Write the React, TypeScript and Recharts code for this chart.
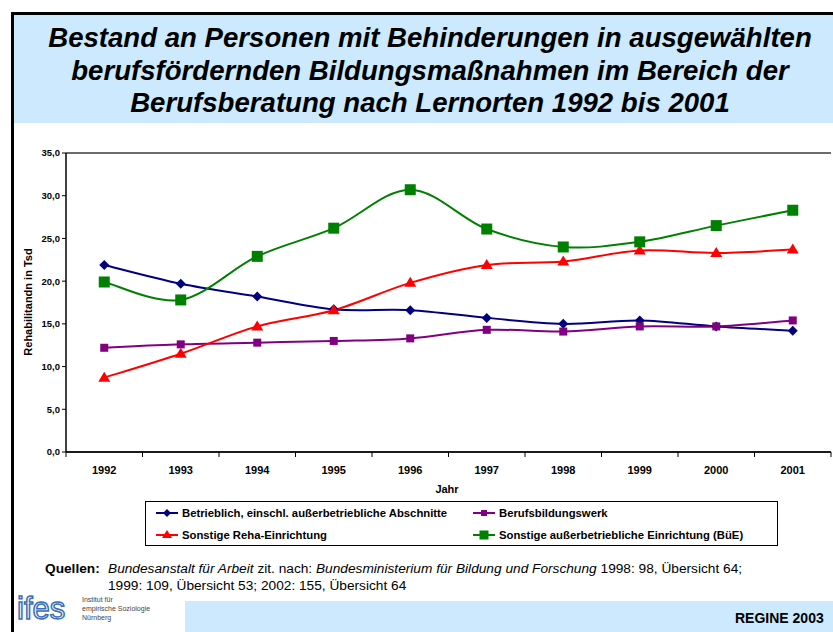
import React from 'react';
import { LineChart, Line, XAxis, YAxis, CartesianGrid, Legend } from 'recharts';

const years = ['1992', '1993', '1994', '1995', '1996', '1997', '1998', '1999', '2000', '2001'];
const betrieblich = [21.9, 19.7, 18.2, 16.7, 16.6, 15.7, 15.0, 15.4, 14.7, 14.2];
const berufsbildungswerk = [12.2, 12.6, 12.8, 13.0, 13.3, 14.3, 14.1, 14.7, 14.7, 15.4];
const sonstigeReha = [8.7, 11.5, 14.7, 16.6, 19.8, 21.9, 22.3, 23.6, 23.3, 23.7];
const sonstigeBue = [19.9, 17.8, 22.9, 26.2, 30.7, 26.1, 24.0, 24.6, 26.5, 28.3];
const yTicks = [0, 5, 10, 15, 20, 25, 30, 35];

const data = years.map((year, i) => ({
    year,
    betrieblich: betrieblich[i],
    bbw: berufsbildungswerk[i],
    reha: sonstigeReha[i],
    bue: sonstigeBue[i],
}));

const series = [
    { key: 'betrieblich', name: 'Betrieblich, einschl. außerbetriebliche Abschnitte', color: '#000080', shape: 'diamond', size: 5 },
    { key: 'bbw', name: 'Berufsbildungswerk', color: '#800080', shape: 'square', size: 4 },
    { key: 'reha', name: 'Sonstige Reha-Einrichtung', color: '#ff0000', shape: 'triangle', size: 5 },
    { key: 'bue', name: 'Sonstige außerbetriebliche Einrichtung (BüE)', color: '#008000', shape: 'square', size: 5.5 },
];

// smoothing close to what Excel does (catmull-rom through the points)
const smoothCurve = (context: any) => {
    let pts: number[][] = [];
    return {
        areaStart() {},
        areaEnd() {},
        lineStart() { pts = []; },
        point(x: number, y: number) { pts.push([+x, +y]); },
        lineEnd() {
            const n = pts.length;
            if (!n) return;
            context.moveTo(pts[0][0], pts[0][1]);
            for (let i = 0; i < n - 1; i++) {
                const p0 = pts[i - 1] || pts[i];
                const p1 = pts[i];
                const p2 = pts[i + 1];
                const p3 = pts[i + 2] || pts[i + 1];
                context.bezierCurveTo(
                    p1[0] + (p2[0] - p0[0]) / 6, p1[1] + (p2[1] - p0[1]) / 6,
                    p2[0] - (p3[0] - p1[0]) / 6, p2[1] - (p3[1] - p1[1]) / 6,
                    p2[0], p2[1]
                );
            }
        },
    };
};

const Marker = ({ cx, cy, shape, size, color }: any) => {
    if (shape === 'diamond') {
        return <polygon points={`${cx},${cy - size} ${cx + size},${cy} ${cx},${cy + size} ${cx - size},${cy}`} fill={color} />;
    }
    if (shape === 'triangle') {
        return <polygon points={`${cx},${cy - size - 1} ${cx + size + 1},${cy + size - 1} ${cx - size - 1},${cy + size - 1}`} fill={color} />;
    }
    return <rect x={cx - size} y={cy - size} width={size * 2} height={size * 2} fill={color} />;
};

const makeDot = (s: any) => (props: any) => (
    <Marker key={`${s.key}-${props.index}`} cx={props.cx} cy={props.cy} shape={s.shape} size={s.size} color={s.color} />
);

const XTick = (props: any) => {
    const { x, y, payload, index } = props;
    const half = payload.offset || 38.25;
    return (
        <g>
            <line x1={x - half} x2={x - half} y1={y - 8} y2={y - 3} stroke="#000" />
            {index === years.length - 1 && <line x1={x + half} x2={x + half} y1={y - 8} y2={y - 3} stroke="#000" />}
            <text x={x} y={y + 14} textAnchor="middle" fontSize={11} fontWeight="bold" fill="#000">{payload.value}</text>
        </g>
    );
};

const LegendBox = () => (
    <div style={{ width: 631, height: 43, border: '1px solid #000', position: 'relative', background: '#fff', fontFamily: 'Arial, "Liberation Sans", sans-serif' }}>
        {series.map((s, i) => {
            const left = i % 2 === 0 ? 10 : 327;
            const top = i < 2 ? 11 : 33;
            return (
                <div key={s.key} style={{ position: 'absolute', left, top: top - 8, height: 16, display: 'flex', alignItems: 'center' }}>
                    <svg width={22} height={14}>
                        <line x1={0} x2={22} y1={7} y2={7} stroke={s.color} strokeWidth={2} />
                        <Marker cx={11} cy={7} shape={s.shape} size={s.size - 1} color={s.color} />
                    </svg>
                    <span style={{ fontSize: 11.3, fontWeight: 'bold', marginLeft: 4, whiteSpace: 'nowrap' }}>{s.name}</span>
                </div>
            );
        })}
    </div>
);

const App: React.FC = () => {
    return (
        <div style={{ position: 'relative', width: 833, height: 632, overflow: 'hidden', background: '#fff', fontFamily: 'Arial, "Liberation Sans", sans-serif' }}>
            <style>{'body { margin: 0; }'}</style>
            {/* slide frame */}
            <div style={{ position: 'absolute', left: 11, top: 12, width: 840, height: 640, borderLeft: '3px solid #000', borderTop: '3px solid #000' }} />
            <div style={{ position: 'absolute', left: 14, top: 15, width: 832, height: 108, background: '#cce9fd' }} />
            <div style={{ position: 'absolute', left: 14, top: 22, width: 832, textAlign: 'center', fontSize: 27.6, lineHeight: '32.5px', fontWeight: 'bold', fontStyle: 'italic', color: '#000' }}>
                Bestand an Personen mit Behinderungen in ausgewählten<br />
                berufsfördernden Bildungsmaßnahmen im Bereich der<br />
                Berufsberatung nach Lernorten 1992 bis 2001
            </div>

            <div style={{ position: 'absolute', left: 0, top: 0 }}>
                <LineChart width={833} height={560} data={data} margin={{ top: 153, right: 2, left: 16, bottom: 78 }}>
                    <CartesianGrid horizontal={true} vertical={false} stroke="#3a3a3a" strokeWidth={1.3} />
                    <XAxis
                        dataKey="year"
                        scale="band"
                        height={30}
                        axisLine={{ stroke: '#000', strokeWidth: 1.5 }}
                        tickLine={false}
                        tick={<XTick />}
                        interval={0}
                        label={{ content: () => <text x={447} y={493} textAnchor="middle" fontSize={11} fontWeight="bold" fill="#000">Jahr</text> }}
                    />
                    <YAxis
                        yAxisId="left"
                        width={50}
                        domain={[0, 35]}
                        ticks={yTicks}
                        interval={0}
                        tickFormatter={(v: number) => v.toFixed(1).replace('.', ',')}
                        axisLine={{ stroke: '#000', strokeWidth: 1.5 }}
                        tickLine={{ stroke: '#000' }}
                        tickSize={4}
                        tickMargin={2}
                        tick={{ fontSize: 9.5, fontWeight: 'bold', fill: '#000' }}
                        label={{ content: () => <text x={0} y={0} transform="translate(32,302) rotate(-90)" textAnchor="middle" fontSize={11} fontWeight="bold" fill="#000">Rehabilitandn in Tsd</text> }}
                    />
                    <YAxis yAxisId="right" orientation="right" width={0} domain={[0, 35]} tick={false} tickLine={false} axisLine={{ stroke: '#555', strokeWidth: 2 }} />
                    {series.map((s) => (
                        <Line
                            key={s.key}
                            yAxisId="left"
                            dataKey={s.key}
                            name={s.name}
                            type={smoothCurve as any}
                            stroke={s.color}
                            strokeWidth={2}
                            dot={makeDot(s)}
                            activeDot={false}
                            isAnimationActive={false}
                        />
                    ))}
                    <Legend
                        layout="vertical"
                        align="center"
                        verticalAlign="middle"
                        wrapperStyle={{ left: 145, top: 501, width: 633, height: 45 }}
                        content={() => <LegendBox />}
                    />
                </LineChart>
            </div>

            {/* sources */}
            <div style={{ position: 'absolute', left: 45, top: 560, fontSize: 13.7, lineHeight: '17px', color: '#000', fontWeight: 'bold' }}>Quellen:</div>
            <div style={{ position: 'absolute', left: 108, top: 560, fontSize: 13.7, lineHeight: '17px', color: '#000', width: 720 }}>
                <i>Bundesanstalt für Arbeit</i> zit. nach: <i>Bundesministerium für Bildung und Forschung</i> 1998: 98, Übersicht 64;<br />
                1999: 109, Übersicht 53; 2002: 155, Übersicht 64
            </div>

            {/* footer */}
            <div style={{ position: 'absolute', left: 185, top: 601, width: 660, height: 31, background: '#cce9fd' }} />
            <div style={{ position: 'absolute', left: 735, top: 610, fontSize: 14, fontWeight: 'bold', color: '#000', whiteSpace: 'nowrap' }}>REGINE 2003</div>
            <svg style={{ position: 'absolute', left: 14, top: 588 }} width={170} height={42}>
                <text x={3} y={31} fontSize={31} fontFamily="Arial, sans-serif" fill="#fff" stroke="#3a6db5" strokeWidth={1.5}>ifes</text>
                <text x={68} y={14} fontSize={7} fill="#444">Institut für</text>
                <text x={68} y={23} fontSize={7} fill="#444">empirische Soziologie</text>
                <text x={68} y={32} fontSize={7} fill="#444">Nürnberg</text>
            </svg>
        </div>
    );
};

export default App;
